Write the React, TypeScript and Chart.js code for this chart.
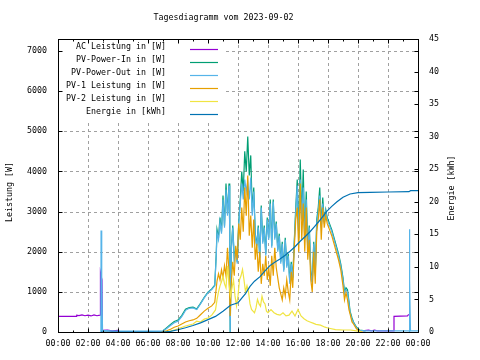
import React, { useEffect, useRef } from "react";
import { Chart, registerables } from "chart.js";

Chart.register(...registerables);

const FONT = "DejaVu Sans Mono";
const FONT_SIZE = 8.3;

const chartTitle = "Tagesdiagramm vom 2023-09-02";
const leftAxisTitle = "Leistung [W]";
const rightAxisTitle = "Energie [kWh]";

const xTickHours = [0, 2, 4, 6, 8, 10, 12, 14, 16, 18, 20, 22, 24];
const xTickLabels = ["00:00", "02:00", "04:00", "06:00", "08:00", "10:00", "12:00", "14:00", "16:00", "18:00", "20:00", "22:00", "00:00"];
const xMinorHours = [1, 3, 5, 7, 9, 11, 13, 15, 17, 19, 21, 23];
const yLeftTicks = [0, 1000, 2000, 3000, 4000, 5000, 6000, 7000];
const yRightTicks = [0, 5, 10, 15, 20, 25, 30, 35, 40, 45];

const seriesNames = [
  "AC Leistung in [W]",
  "PV-Power-In in [W]",
  "PV-Power-Out in [W]",
  "PV-1 Leistung in [W]",
  "PV-2 Leistung in [W]",
  "Energie in [kWh]",
];
const seriesColors = ["#9400d3", "#009e73", "#56b4e9", "#e69f00", "#f0e442", "#0072b2"];

// AC Leistung [W] (null = gap)
const acT = [0, 1.2, 1.25, 1.4, 1.6, 1.8, 2.0, 2.2, 2.4, 2.6, 2.8, 2.83, 2.93, 2.96, 3.3, 3.6, 4.0, 4.05, 4.1, 11.47, 11.49, 11.5, 20.3, 20.7, 20.9, 21.1, 21.3, 21.5, 22.38, 22.4, 23.3, 23.36, 23.4];
const acV = [390, 390, 420, 410, 425, 405, 420, 400, 425, 405, 420, 1480, 1300, 40, 50, 30, 40, 0, null, 720, 370, null, 30, 45, 30, 45, 30, 30, 30, 390, 400, 430, 430];

// PV-Power-In [W]
const pvInT = [7.0, 7.25, 7.5, 7.75, 8.0, 8.25, 8.5, 8.75, 9.0, 9.25, 9.5, 9.75, 10.0, 10.25, 10.45, 10.55, 10.6, 10.7, 10.8, 10.9, 11.0, 11.1, 11.2, 11.3, 11.4, 11.45, 11.48, 11.52, 11.55, 11.65, 11.75, 11.85, 11.95, 12.05, 12.15, 12.25, 12.35, 12.45, 12.55, 12.65, 12.75, 12.85, 12.95, 13.05, 13.15, 13.25, 13.35, 13.45, 13.55, 13.65, 13.75, 13.85, 13.95, 14.05, 14.15, 14.25, 14.35, 14.45, 14.55, 14.65, 14.75, 14.85, 14.95, 15.05, 15.15, 15.25, 15.35, 15.45, 15.55, 15.65, 15.75, 15.85, 15.95, 16.05, 16.15, 16.25, 16.35, 16.45, 16.55, 16.65, 16.75, 16.85, 16.95, 17.05, 17.15, 17.25, 17.35, 17.45, 17.55, 17.65, 17.75, 17.85, 17.95, 18.1, 18.25, 18.4, 18.55, 18.7, 18.85, 19.0, 19.1, 19.2, 19.3, 19.4, 19.47, 19.6, 19.7, 19.9, 20.1, 20.5];
const pvInV = [30, 110, 190, 260, 300, 410, 570, 610, 620, 575, 715, 865, 995, 1075, 1165, 1950, 2550, 2350, 2850, 2500, 3400, 2650, 3700, 2950, 3700, 2550, 0, 0, 2050, 2650, 1850, 2050, 1750, 2750, 3300, 4000, 3500, 4500, 4000, 4870, 3900, 4400, 3000, 3600, 2450, 2150, 2650, 1850, 3150, 2250, 2650, 1950, 2850, 2350, 3300, 2150, 3300, 2350, 2750, 2050, 2450, 1750, 2250, 1550, 2350, 1650, 1950, 1250, 1750, 1350, 2250, 3100, 3800, 2350, 4300, 2850, 4050, 2350, 3500, 2050, 2650, 1550, 1250, 2250, 1450, 2800, 3100, 3600, 2650, 3350, 2750, 3050, 2850, 2700, 2550, 2350, 2150, 1950, 1700, 1350, 1000, 1100, 1050, 750, 520, 350, 250, 120, 50, 30];

// PV-Power-Out [W]
const pvOutT = [2.86, 2.87, 2.9, 2.93, 2.97, 3.5, 4.0, 5.0, 6.0, 7.0, 7.25, 7.5, 7.75, 8.0, 8.25, 8.5, 8.75, 9.0, 9.25, 9.5, 9.75, 10.0, 10.25, 10.45, 10.55, 10.6, 10.7, 10.8, 10.9, 11.0, 11.1, 11.2, 11.3, 11.4, 11.45, 11.48, 11.52, 11.55, 11.65, 11.75, 11.85, 11.95, 12.05, 12.15, 12.25, 12.35, 12.45, 12.55, 12.65, 12.75, 12.85, 12.95, 13.05, 13.15, 13.25, 13.35, 13.45, 13.55, 13.65, 13.75, 13.85, 13.95, 14.05, 14.15, 14.25, 14.35, 14.45, 14.55, 14.65, 14.75, 14.85, 14.95, 15.05, 15.15, 15.25, 15.35, 15.45, 15.55, 15.65, 15.75, 15.85, 15.95, 16.05, 16.15, 16.25, 16.35, 16.45, 16.55, 16.65, 16.75, 16.85, 16.95, 17.05, 17.15, 17.25, 17.35, 17.45, 17.55, 17.65, 17.75, 17.85, 17.95, 18.1, 18.25, 18.4, 18.55, 18.7, 18.85, 19.0, 19.1, 19.2, 19.3, 19.4, 19.47, 19.6, 19.7, 19.9, 20.1, 20.5, 21.0, 22.0, 23.4, 23.42, 23.44, 23.46, 23.5, 24];
const pvOutV = [0, 2530, 0, 1300, 40, 30, 20, 20, 20, 30, 90, 160, 230, 270, 380, 540, 590, 600, 560, 700, 850, 980, 1060, 1150, 1900, 2480, 2300, 2750, 2450, 3300, 2600, 3550, 2900, 3650, 2500, 0, 0, 2000, 2600, 1800, 2000, 1700, 2700, 3200, 3700, 3300, 3800, 3500, 3750, 3300, 3850, 2900, 3500, 2400, 2100, 2600, 1800, 3100, 2200, 2600, 1900, 2800, 2300, 3200, 2100, 3250, 2300, 2700, 2000, 2400, 1700, 2200, 1500, 2300, 1600, 1900, 1200, 1700, 1300, 2200, 3000, 3650, 2300, 3800, 2800, 3600, 2300, 3300, 2000, 2600, 1500, 1200, 2200, 1400, 2700, 3000, 3400, 2600, 3200, 2700, 3000, 2800, 2650, 2500, 2300, 2100, 1900, 1650, 1300, 950, 1050, 1000, 700, 480, 320, 230, 100, 40, 30, 30, 30, 30, 2560, 0, 1290, 30, 30];

// PV-1 Leistung [W]
const pv1T = [6.9, 7.25, 7.5, 7.75, 8.0, 8.25, 8.5, 8.75, 9.0, 9.25, 9.5, 9.75, 10.0, 10.25, 10.45, 10.6, 10.7, 10.8, 10.9, 11.0, 11.1, 11.2, 11.3, 11.4, 11.48, 11.55, 11.65, 11.75, 11.85, 11.95, 12.05, 12.15, 12.25, 12.35, 12.45, 12.55, 12.65, 12.75, 12.85, 12.95, 13.05, 13.15, 13.25, 13.35, 13.45, 13.55, 13.65, 13.75, 13.85, 13.95, 14.05, 14.15, 14.25, 14.35, 14.45, 14.55, 14.65, 14.75, 14.85, 14.95, 15.05, 15.15, 15.25, 15.35, 15.45, 15.55, 15.65, 15.75, 15.85, 15.95, 16.05, 16.15, 16.25, 16.35, 16.45, 16.55, 16.65, 16.75, 16.85, 16.95, 17.05, 17.15, 17.25, 17.35, 17.45, 17.55, 17.65, 17.75, 17.85, 17.95, 18.1, 18.25, 18.4, 18.55, 18.7, 18.85, 19.0, 19.1, 19.2, 19.3, 19.4, 19.47, 19.6, 19.7, 19.9, 20.1, 20.3];
const pv1V = [0, 30, 70, 120, 150, 200, 250, 280, 300, 340, 430, 520, 590, 650, 740, 1270, 1450, 1300, 1550, 1350, 1650, 1400, 2100, 1500, 400, 1200, 1750, 1400, 2150, 1800, 2700, 2300, 3100, 2500, 3600, 2900, 3900, 2400, 2900, 2100, 2800, 1800, 2200, 1500, 2000, 1200, 1700, 1400, 1900, 1300, 1600, 1150, 1900, 1400, 2100, 1600, 1350, 1100, 950, 800, 1100, 900, 1300, 1000, 800, 1500, 1100, 2100, 2800, 3100, 2000, 3700, 2300, 3200, 2000, 3100, 1800, 2300, 1300, 1000, 2000, 1200, 2500, 2800, 3300, 2300, 3100, 2600, 2900, 2700, 2550, 2400, 2200, 2000, 1800, 1550, 1150, 800, 980, 800, 550, 450, 250, 200, 80, 20, 0];

// PV-2 Leistung [W]
const pv2T = [7.0, 7.5, 8.0, 8.5, 9.0, 9.25, 9.5, 9.75, 10.0, 10.25, 10.5, 10.6, 10.7, 10.8, 10.9, 11.0, 11.1, 11.2, 11.3, 11.4, 11.5, 11.6, 11.7, 11.8, 11.9, 12.0, 12.1, 12.2, 12.3, 12.4, 12.5, 12.6, 12.7, 12.8, 12.9, 13.0, 13.1, 13.2, 13.3, 13.4, 13.5, 13.6, 13.7, 13.8, 13.9, 14.0, 14.2, 14.4, 14.6, 14.8, 15.0, 15.2, 15.4, 15.6, 15.8, 16.0, 16.2, 16.4, 16.6, 16.8, 17.0, 17.2, 17.5, 17.8, 18.0, 18.5, 19.0, 19.5, 20.0, 20.3];
const pv2V = [0, 20, 80, 150, 200, 270, 250, 320, 350, 420, 550, 800, 1000, 1150, 1250, 1400, 1200, 1100, 1650, 1200, 900, 1100, 1300, 900, 650, 900, 1300, 1400, 1560, 1300, 1000, 1150, 1000, 700, 560, 520, 480, 600, 810, 700, 640, 890, 750, 700, 520, 480, 560, 480, 440, 420, 480, 400, 420, 520, 400, 560, 400, 330, 280, 250, 220, 190, 170, 120, 100, 60, 50, 50, 20, 0];

// Energie [kWh]
const energyT = [2.86, 7.0, 7.5, 8.0, 8.5, 9.0, 9.5, 10.0, 10.5, 11.0, 11.5, 12.0, 12.5, 12.8, 13.1, 13.47, 13.8, 14.13, 14.5, 14.8, 15.15, 15.47, 15.8, 16.13, 16.5, 16.8, 17.1, 17.47, 17.9, 18.25, 18.6, 19.0, 19.47, 20.0, 20.8, 22.0, 23.4, 23.5, 24];
const energyV = [0, 0, 0.1, 0.35, 0.65, 1.0, 1.4, 1.9, 2.4, 3.2, 4.1, 4.5, 5.9, 7.0, 7.8, 8.5, 9.4, 10.2, 10.8, 11.2, 11.8, 12.4, 13.1, 13.9, 14.7, 15.4, 16.2, 17.2, 18.5, 19.3, 20.0, 20.7, 21.2, 21.4, 21.45, 21.5, 21.55, 21.7, 21.7];

const toPoints = (t: number[], v: (number | null)[]) => t.map((x, i) => ({ x, y: v[i] }));

const gnuPlugin = {
  id: "gnuDecor",
  beforeDatasetsDraw(chart: any) {
    const { ctx, chartArea, scales } = chart;
    const { left, right, top, bottom } = chartArea;
    ctx.save();
    ctx.strokeStyle = "#a0a0a0";
    ctx.lineWidth = 1;
    ctx.setLineDash([3, 3]);
    for (const h of xTickHours) {
      if (h === 0 || h === 24) continue;
      const x = Math.round(scales.x.getPixelForValue(h)) + 0.5;
      ctx.beginPath();
      ctx.moveTo(x, top);
      ctx.lineTo(x, bottom);
      ctx.stroke();
    }
    for (const v of yLeftTicks) {
      if (v === 0) continue;
      const y = Math.round(scales.y.getPixelForValue(v)) + 0.5;
      ctx.beginPath();
      ctx.moveTo(left, y);
      ctx.lineTo(right, y);
      ctx.stroke();
    }
    ctx.restore();
  },
  afterDraw(chart: any) {
    const { ctx, chartArea, scales } = chart;
    const { left, right, top, bottom } = chartArea;
    ctx.save();
    ctx.setLineDash([]);
    ctx.strokeStyle = "#000";
    ctx.lineWidth = 1;
    const L = Math.round(left) + 0.5;
    const R = Math.round(right) + 0.5;
    const T = Math.round(top) + 0.5;
    const B = Math.round(bottom) + 0.5;
    const seg = (x1: number, y1: number, x2: number, y2: number) => {
      ctx.beginPath();
      ctx.moveTo(x1, y1);
      ctx.lineTo(x2, y2);
      ctx.stroke();
    };
    // legend box
    ctx.fillStyle = "#fff";
    ctx.fillRect(L + 0.5, T + 0.5, 166, 80);
    // ticks
    for (const v of yLeftTicks) {
      const y = Math.round(scales.y.getPixelForValue(v)) + 0.5;
      seg(L, y, L + 4, y);
      seg(R, y, R - 4, y);
    }
    for (const v of yRightTicks) {
      const y = Math.round(scales.y2.getPixelForValue(v)) + 0.5;
      seg(R, y, R - 4, y);
    }
    for (const h of xTickHours) {
      const x = Math.round(scales.x.getPixelForValue(h)) + 0.5;
      seg(x, B, x, B - 4);
      seg(x, T, x, T + 4);
    }
    for (const h of xMinorHours) {
      const x = Math.round(scales.x.getPixelForValue(h)) + 0.5;
      seg(x, B, x, B - 2);
      seg(x, T, x, T + 2);
    }
    // border
    ctx.strokeRect(L, T, R - L, B - T);

    ctx.fillStyle = "#000";
    ctx.font = `${FONT_SIZE}px "${FONT}"`;
    ctx.textBaseline = "middle";
    ctx.textAlign = "center";
    ctx.fillText(chartTitle, 223.5, 18);

    ctx.save();
    ctx.translate(10, 192);
    ctx.rotate(-Math.PI / 2);
    ctx.fillText(leftAxisTitle, 0, 0);
    ctx.restore();
    ctx.save();
    ctx.translate(452, 188);
    ctx.rotate(-Math.PI / 2);
    ctx.fillText(rightAxisTitle, 0, 0);
    ctx.restore();

    // legend
    ctx.textAlign = "right";
    seriesNames.forEach((name, i) => {
      const ty = 47 + 13 * i;
      ctx.fillStyle = "#000";
      ctx.fillText(name, 166, ty);
      ctx.strokeStyle = seriesColors[i];
      ctx.lineWidth = 1.2;
      const ly = 49.5 + 13 * i;
      seg(190, ly, 218, ly);
    });
    ctx.restore();
  },
};

export default function App() {
  const ref = useRef<HTMLCanvasElement>(null);
  useEffect(() => {
    if (!ref.current) return;
    const series = [
      { t: acT, v: acV },
      { t: pvInT, v: pvInV },
      { t: pvOutT, v: pvOutV },
      { t: pv1T, v: pv1V },
      { t: pv2T, v: pv2V },
    ];
    const datasets: any[] = series.map((s, i) => ({
      label: seriesNames[i],
      data: toPoints(s.t, s.v),
      borderColor: seriesColors[i],
      backgroundColor: seriesColors[i],
      borderWidth: 1.2,
      pointRadius: 0,
      spanGaps: false,
      yAxisID: "y",
      order: 6 - i,
    }));
    datasets.push({
      label: seriesNames[5],
      data: toPoints(energyT, energyV),
      borderColor: seriesColors[5],
      backgroundColor: seriesColors[5],
      borderWidth: 1.2,
      pointRadius: 0,
      yAxisID: "y2",
      order: 1,
    });
    const tickFont = { family: FONT, size: FONT_SIZE };
    const chart = new Chart(ref.current, {
      type: "line",
      data: { datasets },
      plugins: [gnuPlugin],
      options: {
        animation: false,
        responsive: false,
        devicePixelRatio: 1,
        parsing: false as any,
        normalized: true,
        layout: { padding: { top: 39, left: 0, right: 0, bottom: 0 } },
        plugins: { legend: { display: false }, title: { display: false }, tooltip: { enabled: false } },
        elements: { line: { tension: 0 } },
        scales: {
          x: {
            type: "linear",
            min: 0,
            max: 24,
            afterBuildTicks: (s: any) => {
              s.ticks = xTickHours.map((value) => ({ value }));
            },
            afterFit: (s: any) => {
              s.height = 28;
            },
            grid: { display: false, drawTicks: false },
            border: { display: false },
            ticks: {
              font: tickFont,
              color: "#000",
              padding: 7,
              maxRotation: 0,
              autoSkip: false,
              callback: (_v: any, i: number) => xTickLabels[i],
            },
          },
          y: {
            type: "linear",
            position: "left",
            min: 0,
            max: 7300,
            afterBuildTicks: (s: any) => {
              s.ticks = yLeftTicks.map((value) => ({ value }));
            },
            afterFit: (s: any) => {
              s.width = 58;
            },
            grid: { display: false, drawTicks: false },
            border: { display: false },
            ticks: { font: tickFont, color: "#000", padding: 11, callback: (v: any) => String(v) },
          },
          y2: {
            type: "linear",
            position: "right",
            min: 0,
            max: 45,
            afterBuildTicks: (s: any) => {
              s.ticks = yRightTicks.map((value) => ({ value }));
            },
            afterFit: (s: any) => {
              s.width = 62;
            },
            grid: { display: false, drawTicks: false },
            border: { display: false },
            ticks: { font: tickFont, color: "#000", padding: 11, callback: (v: any) => String(v) },
          },
        },
      } as any,
    });
    return () => chart.destroy();
  }, []);
  return (
    <div style={{ position: "absolute", left: 0, top: 0, width: 480, height: 360, background: "#fff" }}>
      <canvas ref={ref} width={480} height={360} style={{ display: "block", width: 480, height: 360 }} />
    </div>
  );
}
